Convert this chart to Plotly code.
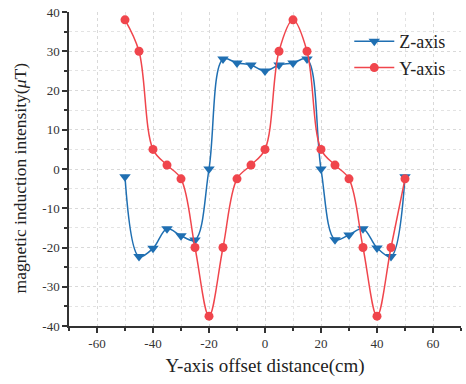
import plotly.graph_objects as go

x_pos = [-50, -45, -40, -35, -30, -25, -20, -15, -10, -5, 0, 5, 10, 15, 20, 25, 30, 35, 40, 45, 50]
z_axis = [-2, -22.3, -20.2, -15.2, -17, -18.1, 0, 28, 27, 26.5, 25, 26.5, 27, 28, 0, -18, -16.8, -15.2, -20.1, -22.3, -2]
y_axis = [38, 30, 5, 1, -2.5, -20, -37.5, -20, -2.5, 1, 5, 30, 38, 30, 5, 1, -2.5, -20, -37.5, -20, -2.5]

x_ticks = [-60, -40, -20, 0, 20, 40, 60]
x_tick_labels = ["-60", "-40", "-20", "0", "20", "40", "60"]
y_ticks = [-40, -30, -20, -10, 0, 10, 20, 30, 40]
y_tick_labels = ["-40", "-30", "-20", "-10", "0", "10", "20", "30", "40"]

blue = "#1f6fb2"
red = "#f0454c"
font_family = "Liberation Serif, Times New Roman, serif"

fig = go.Figure()
fig.add_trace(go.Scatter(
    x=x_pos, y=z_axis, name="Z-axis", mode="lines+markers",
    line=dict(color=blue, width=1.5, shape="spline", smoothing=1.0),
    marker=dict(symbol="triangle-down", size=10, color=blue),
))
fig.add_trace(go.Scatter(
    x=x_pos, y=y_axis, name="Y-axis", mode="lines+markers",
    line=dict(color=red, width=1.5, shape="spline", smoothing=1.0),
    marker=dict(symbol="circle", size=9, color=red),
))

grid = dict(showgrid=True, gridcolor="#d9d9d9", griddash="dot", gridwidth=1)
fig.update_layout(
    width=466, height=384,
    margin=dict(l=69, r=5, t=10, b=58),
    paper_bgcolor="white", plot_bgcolor="white",
    font=dict(family=font_family, color="#222222"),
    showlegend=True,
    legend=dict(x=0.715, y=0.965, xanchor="left", yanchor="top",
                font=dict(size=18, family=font_family, color="#222222"),
                bgcolor="rgba(0,0,0,0)", itemwidth=40, tracegroupgap=0),
    xaxis=dict(
        range=[-70, 70], tickmode="array", tickvals=x_ticks, ticktext=x_tick_labels,
        ticks="outside", ticklen=5, tickwidth=1.5, tickcolor="#333",
        showline=True, linecolor="#333", linewidth=1.5, zeroline=False,
        tickfont=dict(size=13, family=font_family, color="#333"),
        title=dict(text="Y-axis offset distance(cm)", font=dict(size=19, family=font_family, color="#222"), standoff=8),
        minor=dict(dtick=10, tick0=-70, ticks="outside", ticklen=3, tickcolor="#333", showgrid=True,
                   gridcolor="#e3e3e3", griddash="dot"),
        **grid,
    ),
    yaxis=dict(
        range=[-40, 40], tickmode="array", tickvals=y_ticks, ticktext=y_tick_labels,
        ticks="outside", ticklen=5, tickwidth=1.5, tickcolor="#333",
        showline=True, linecolor="#333", linewidth=1.5, zeroline=False,
        tickfont=dict(size=13, family=font_family, color="#333"),
        minor=dict(dtick=5, tick0=-40, ticks="outside", ticklen=3, tickcolor="#333", showgrid=True,
                   gridcolor="#e3e3e3", griddash="dot"),
        **grid,
    ),
    annotations=[dict(
        text="magnetic induction intensity(<i>μ</i>T)", textangle=-90,
        xref="paper", yref="paper", x=-0.125, y=0.47, xanchor="center", yanchor="middle",
        showarrow=False, font=dict(size=17.5, family=font_family, color="#222"),
    )],
)

fig.write_html("out.html")
